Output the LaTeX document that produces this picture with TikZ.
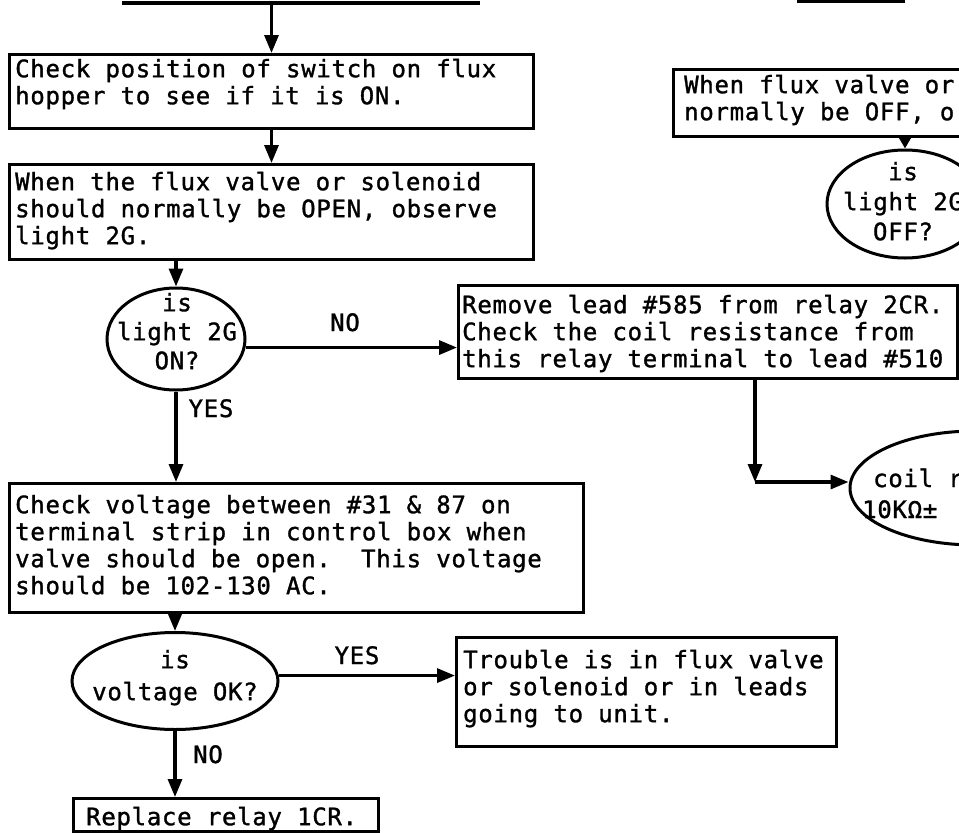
\documentclass[tikz,border=0pt]{standalone}
\usepackage{fontspec}
\usetikzlibrary{arrows.meta,shapes.geometric}
\newfontfamily\typewriterface[LetterSpace=3,FakeBold=1.3]{DejaVu Sans Mono}
% fixed pitch for letters and spaces alike
\newcommand\chartfont{\typewriterface\fontsize{24}{27}\selectfont
  \spaceskip=15.17pt\relax\xspaceskip=15.17pt\relax}
% first line of a text block starts 20pt below its top edge
\newcommand\topline{\rule{0pt}{20pt}}
\begin{document}
\begin{tikzpicture}[x=1pt,y=-1pt,
  box/.style={draw, line width=3pt, rectangle, anchor=north west, inner sep=0pt},
  oval/.style={draw, line width=3pt, ellipse, inner sep=0pt},
  txt/.style={font=\chartfont, inner sep=0pt, anchor=north west, align=left},
  ovaltext/.style={font=\chartfont, inner sep=0pt, anchor=north, align=center},
  lbl/.style={font=\chartfont, inner sep=0pt, anchor=base},
  wire/.style={line width=3.2pt},
  flow/.style={wire, -{Triangle[length=18pt,width=14pt]}},
  shortflow/.style={wire, -{Triangle[length=12pt,width=13pt]}},
]
\useasboundingbox (0,0) rectangle (959,833);

% incoming lines along the top edge
\coordinate (t1) at (122,3);
\coordinate (t2) at (480,3);
\coordinate (t3) at (797,1);
\coordinate (t4) at (905,1);

% process boxes (frames, then their text)
\node[box, minimum width=524pt, minimum height=74pt] (b1) at (8,53) {};
\node[txt] (b1t) at (15,57)
  {\topline Check position of switch on flux\\hopper to see if it is ON.};

\node[box, minimum width=524pt, minimum height=95pt] (b2) at (8,163) {};
\node[txt] (b2t) at (15,170)
  {\topline When the flux valve or solenoid\\should normally be OPEN, observe\\light 2G.};

\node[box, minimum width=499pt, minimum height=93pt] (b3) at (457,284) {};
\node[txt] (b3t) at (462,293)
  {\topline Remove lead \#585 from relay 2CR.\\Check the coil resistance from\\this relay terminal to lead \#510};

\node[box, minimum width=574pt, minimum height=129pt] (b4) at (8,482) {};
\node[txt] (b4t) at (15,493)
  {\topline Check voltage between \#31 \& 87 on\\terminal strip in control box when\\valve should be open.\ \ This voltage\\should be 102-130 AC.};

\node[box, minimum width=310pt, minimum height=67pt] (b5) at (672,68) {};
\node[txt] (b5t) at (684,73)
  {\topline When flux valve or\\normally be OFF, o};

\node[box, minimum width=380pt, minimum height=109pt] (b6) at (455,636) {};
\node[txt] (b6t) at (463,648)
  {\topline Trouble is in flux valve\\or solenoid or in leads\\going to unit.};

\node[box, minimum width=305pt, minimum height=33pt] (b7) at (72,797) {};
\node[txt] (b7t) at (86,805) {\topline Replace relay 1CR.};

% decisions
\node[oval, minimum width=138pt, minimum height=102pt] (e1) at (176,339) {};
\node[ovaltext] (e1t) at (177,291) {\topline is\\[2pt]light 2G\\[2pt]ON?};
\node[oval, minimum width=156pt, minimum height=108pt] (e2) at (905,204) {};
\node[ovaltext] (e2t) at (903,160) {\topline is\\[3pt]light 2G\\[3pt]OFF?};
\node[oval, minimum width=250pt, minimum height=114pt] (e3) at (975,488) {};
\node[lbl, anchor=base west] (e3a) at (873,487) {coil r};
\node[lbl, anchor=base west] (e3b) at (862,518) {10KΩ±};
\node[oval, minimum width=206pt, minimum height=97pt] (e4) at (175,681) {};
\node[ovaltext] (e4t) at (175,648) {\topline is\\[5pt]voltage OK?};

% connectors
\draw[wire] (t1) -- (t2);
\draw[wire] (t3) -- (t4);
\draw[flow] (b1.north |- t1) -- (b1.north);
\draw[flow] (b1.south) -- (b2.north);
\draw[flow] (e1.north |- b2.south) -- (e1.north);
\draw[flow] (e1.-7) -- (e1.-7 -| b3.west);
\draw[flow] (e1.south) -- (e1.south |- b4.north);
\draw[shortflow] (e2.north |- b5.south) -- (e2.north);
\coordinate (c3) at (755,482);
\draw[flow] (b3.south -| c3) -- (c3);
\draw[flow] (c3) -- (c3 -| e3.west);
\draw[flow] (e4.north |- b4.south) -- (e4.north);
\draw[flow] (e4.3) -- (e4.3 -| b6.west);
\draw[flow] (e4.south) -- (e4.south |- b7.north);

% branch labels
\node[lbl] (no1) at (345,331) {NO};
\node[lbl] (yes1) at (211,417) {YES};
\node[lbl] (yes2) at (357,664) {YES};
\node[lbl] (no2) at (208,763) {NO};
\end{tikzpicture}
\end{document}
